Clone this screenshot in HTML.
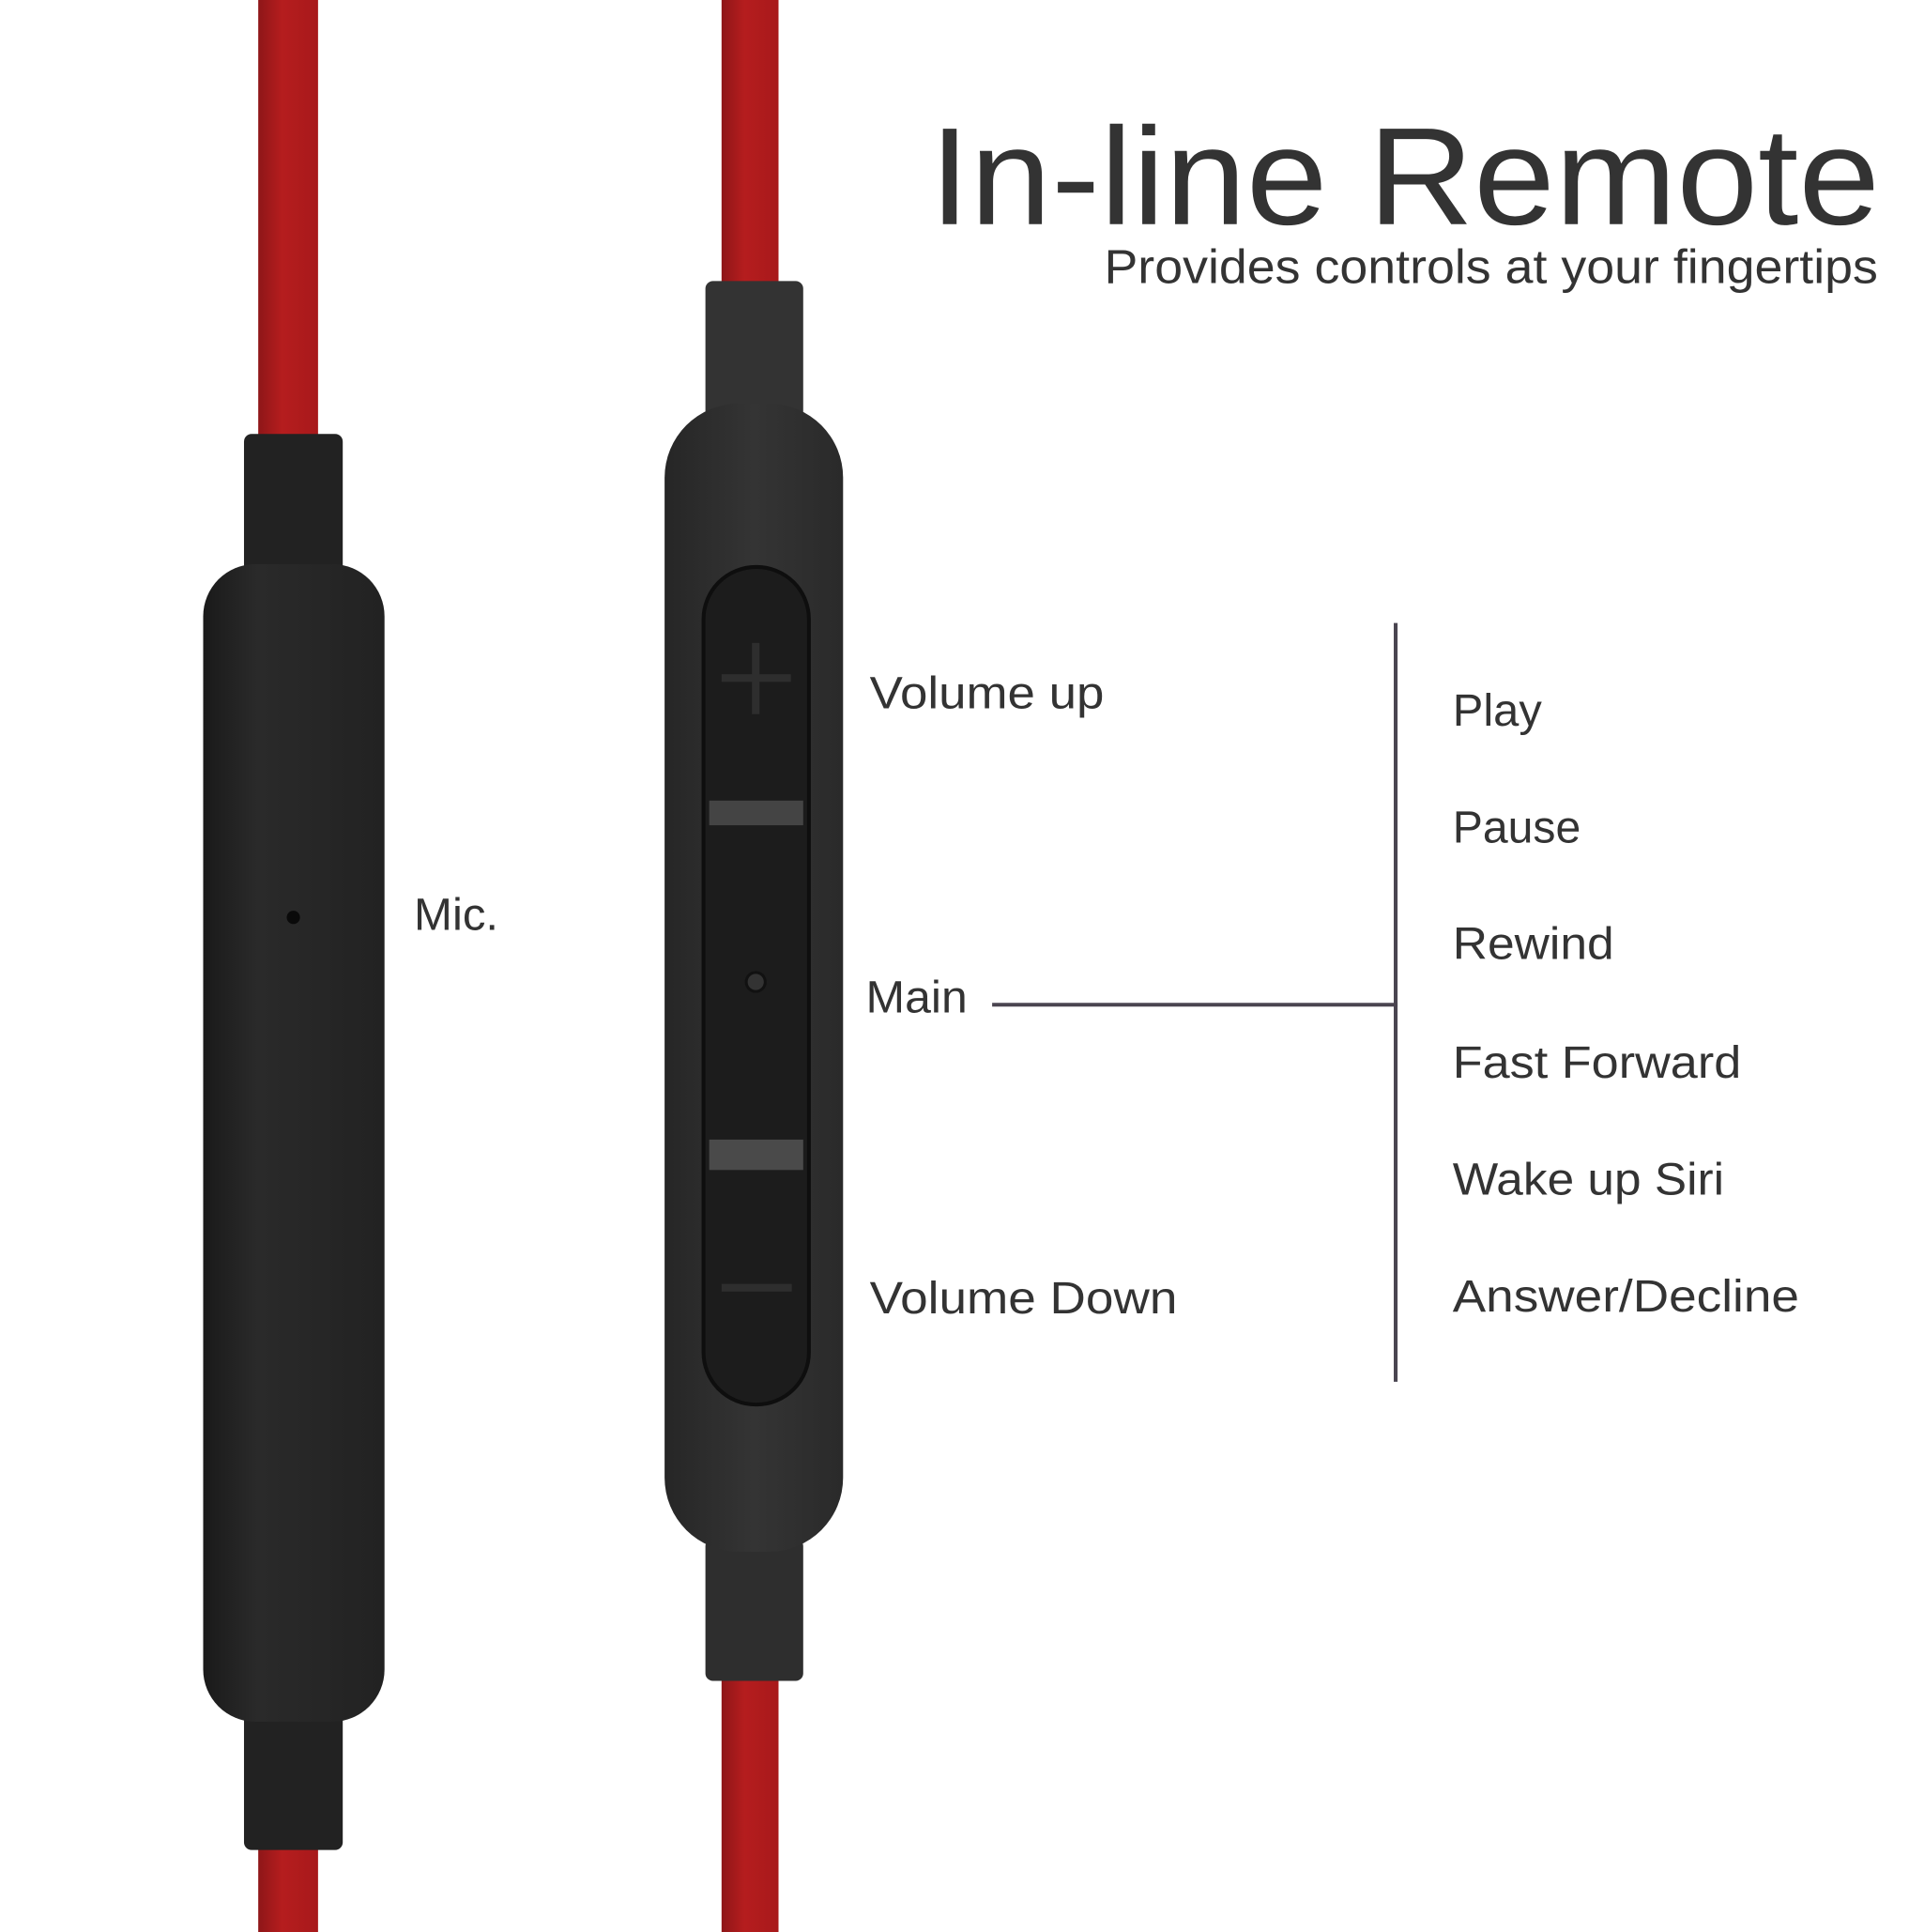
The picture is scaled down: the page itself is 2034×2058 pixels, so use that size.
<!DOCTYPE html>
<html><head><meta charset="utf-8"><style>
html,body{margin:0;padding:0;background:#fff;}
svg{display:block}
text{font-family:"Liberation Sans",sans-serif;fill:#333;}
</style></head><body>
<svg width="2034" height="2058" viewBox="0 0 2010.7 2034.4" preserveAspectRatio="none" xmlns="http://www.w3.org/2000/svg">
<defs>
<linearGradient id="cab" x1="0" x2="1" y1="0" y2="0">
<stop offset="0" stop-color="#8e1618"/><stop offset="0.4" stop-color="#b51d1e"/><stop offset="1" stop-color="#a8191b"/>
</linearGradient>
<linearGradient id="body" x1="0" x2="1" y1="0" y2="0">
<stop offset="0" stop-color="#1a1a1a"/><stop offset="0.3" stop-color="#2a2a2a"/><stop offset="1" stop-color="#222"/>
</linearGradient>
<linearGradient id="body2" x1="0" x2="1" y1="0" y2="0">
<stop offset="0" stop-color="#262626"/><stop offset="0.5" stop-color="#343434"/><stop offset="1" stop-color="#2a2a2a"/>
</linearGradient>
</defs>
<rect width="2100" height="2100" fill="#fff"/>
<rect x="272" y="0" width="63" height="2100" fill="url(#cab)"/>
<rect x="257" y="457" width="104" height="150" rx="8" fill="#222"/>
<rect x="257" y="1800" width="104" height="148" rx="8" fill="#222"/>
<rect x="214" y="594" width="191" height="1219" rx="55" fill="url(#body)"/>
<circle cx="309" cy="966" r="7" fill="#0a0a0a"/>
<rect x="760" y="0" width="60" height="2100" fill="url(#cab)"/>
<rect x="743" y="296" width="103" height="145" rx="8" fill="#333"/>
<rect x="743" y="1620" width="103" height="150" rx="8" fill="#2e2e2e"/>
<rect x="700" y="425" width="188" height="1209" rx="78" fill="url(#body2)"/>
<rect x="741" y="597" width="111" height="882" rx="55" fill="#1c1c1c" stroke="#0e0e0e" stroke-width="4"/>
<rect x="747" y="843" width="99" height="26" fill="#444"/>
<rect x="747" y="1200" width="99" height="32" fill="#4a4a4a"/>
<rect x="760" y="710" width="73" height="8" fill="#2e2e2e"/>
<rect x="792" y="677" width="8" height="75" fill="#2e2e2e"/>
<rect x="760" y="1352" width="74" height="8" fill="#2e2e2e"/>
<circle cx="796" cy="1034" r="10" fill="#333" stroke="#111" stroke-width="3"/>
<text x="979" y="236" font-size="146" textLength="1001" lengthAdjust="spacingAndGlyphs">In-line Remote</text>
<text x="1163" y="298" font-size="50" textLength="815" lengthAdjust="spacingAndGlyphs">Provides controls at your fingertips</text>
<text x="436" y="979" font-size="48" textLength="89" lengthAdjust="spacingAndGlyphs">Mic.</text>
<text x="916" y="746" font-size="48" textLength="247" lengthAdjust="spacingAndGlyphs">Volume up</text>
<text x="912" y="1066" font-size="48" textLength="107" lengthAdjust="spacingAndGlyphs">Main</text>
<text x="916" y="1383" font-size="48" textLength="324" lengthAdjust="spacingAndGlyphs">Volume Down</text>
<line x1="1045" y1="1058" x2="1472" y2="1058" stroke="#4a4550" stroke-width="4"/>
<line x1="1470" y1="656" x2="1470" y2="1455" stroke="#4a4550" stroke-width="4"/>
<text x="1530" y="764" font-size="48" textLength="94" lengthAdjust="spacingAndGlyphs">Play</text>
<text x="1530" y="887" font-size="48" textLength="135" lengthAdjust="spacingAndGlyphs">Pause</text>
<text x="1530" y="1010" font-size="48" textLength="170" lengthAdjust="spacingAndGlyphs">Rewind</text>
<text x="1530" y="1135" font-size="48" textLength="304" lengthAdjust="spacingAndGlyphs">Fast Forward</text>
<text x="1530" y="1258" font-size="48" textLength="286" lengthAdjust="spacingAndGlyphs">Wake up Siri</text>
<text x="1530" y="1381" font-size="48" textLength="365" lengthAdjust="spacingAndGlyphs">Answer/Decline</text>
</svg>
</body></html>
